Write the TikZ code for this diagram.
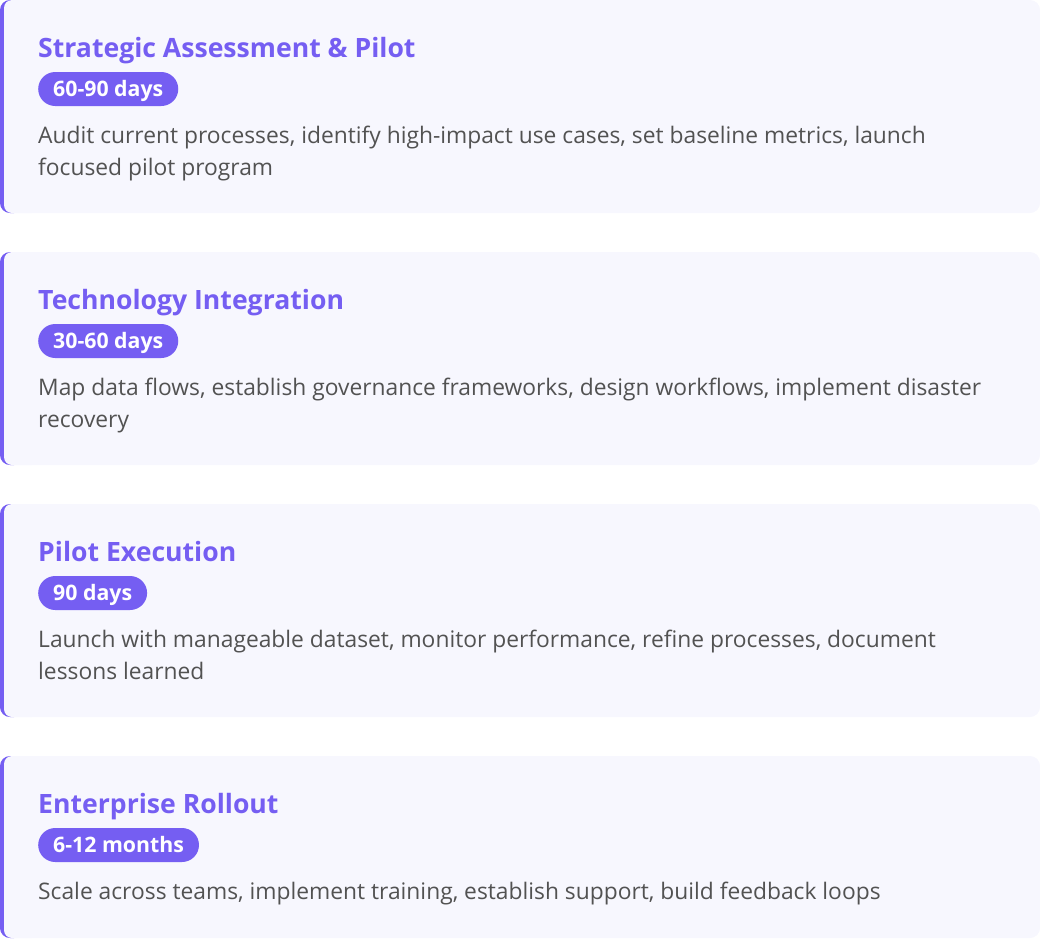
\documentclass[tikz,border=0pt]{standalone}
\usepackage{fontspec}
\setmainfont{Open Sans}
\definecolor{accent}{RGB}{117,94,242}
\definecolor{cardbg}{RGB}{247,247,254}
\definecolor{bodytxt}{RGB}{82,82,82}
\tikzset{
  cardtitle/.style={anchor=base west, inner sep=0pt, text=accent, font=\fontsize{26.6}{30}\selectfont\bfseries},
  badge/.style={anchor=west, fill=accent, text=white, rounded corners=17pt, minimum height=34pt,
    inner xsep=15pt, inner ysep=0pt, text height=15pt, text depth=0pt, font=\fontsize{21.3}{24}\selectfont\bfseries},
  bodyline/.style={anchor=base west, inner sep=0pt, text=bodytxt, font=\fontsize{22.8}{32}\selectfont},
}
\newcommand\mycard[2]{%
  \fill[cardbg, rounded corners=10pt] (0,#1) rectangle (1040,#2);
  \fill[accent, rounded corners=10pt] (0,#1) rectangle (24,#2);
  \fill[cardbg, rounded corners=8pt] (4,#1) rectangle (40,#2);}
\begin{document}
\begin{tikzpicture}[x=1pt,y=-1pt]
\useasboundingbox (0,0) rectangle (1040,940);
\mycard{0}{213}
\mycard{252}{465}
\mycard{504}{717}
\mycard{756}{938}
% card 1
\node[cardtitle] (t1) at (38,57) {Strategic Assessment \& Pilot};
\node[badge] (d1) at (38,89) {60-90 days};
\node[bodyline] (b1a) at (38,143) {Audit current processes, identify high-impact use cases, set baseline metrics, launch};
\node[bodyline] (b1b) at (38,175) {focused pilot program};
% card 2
\node[cardtitle] (t2) at (38,309) {Technology Integration};
\node[badge] (d2) at (38,341) {30-60 days};
\node[bodyline] (b2a) at (38,395) {Map data flows, establish governance frameworks, design workflows, implement disaster};
\node[bodyline] (b2b) at (38,427) {recovery};
% card 3
\node[cardtitle] (t3) at (38,561) {Pilot Execution};
\node[badge] (d3) at (38,593) {90 days};
\node[bodyline] (b3a) at (38,647) {Launch with manageable dataset, monitor performance, refine processes, document};
\node[bodyline] (b3b) at (38,679) {lessons learned};
% card 4
\node[cardtitle] (t4) at (38,813) {Enterprise Rollout};
\node[badge] (d4) at (38,845) {6-12 months};
\node[bodyline] (b4a) at (38,899) {Scale across teams, implement training, establish support, build feedback loops};
\end{tikzpicture}
\end{document}
